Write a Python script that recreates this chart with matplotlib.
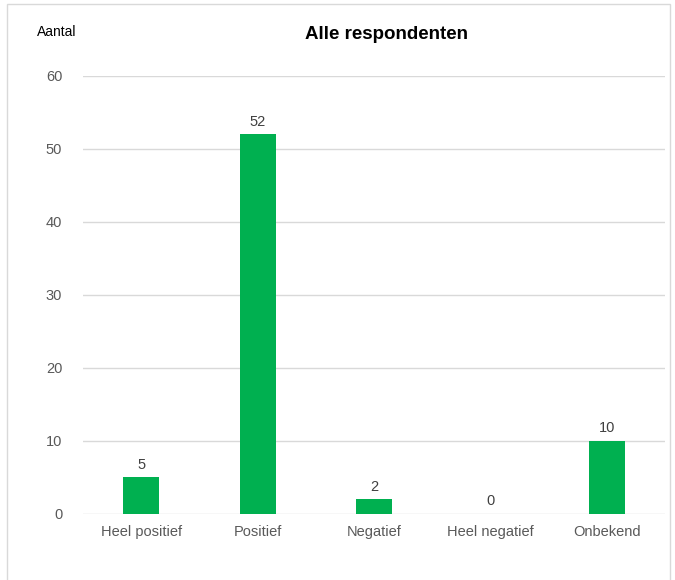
import matplotlib.pyplot as plt
from matplotlib.patches import Rectangle

categories = ['Heel positief', 'Positief', 'Negatief', 'Heel negatief', 'Onbekend']
values = [5, 52, 2, 0, 10]
yticks = [0, 10, 20, 30, 40, 50, 60]

plt.rcParams['font.family'] = ['Liberation Sans', 'DejaVu Sans']

fig = plt.figure(figsize=(6.75, 5.8), dpi=100)
ax = fig.add_axes([0.123, 0.1138, 0.862, 0.7552])

# frame around the whole chart
fig.patches.append(Rectangle((0.011, -0.01), 0.982, 1.003, transform=fig.transFigure,
                             fill=False, edgecolor='#d9d9d9', linewidth=1))

x = range(len(categories))
ax.bar(x, values, width=0.31, color='#00b050', zorder=3)
for i, v in enumerate(values):
    ax.text(i, v + 0.8, str(v), ha='center', va='bottom', fontsize=10.5, color='#404040')

ax.set_xlim(-0.5, 4.5)
ax.set_ylim(0, 60)
ax.set_yticks(yticks)
ax.set_xticks(list(x))
ax.set_xticklabels(categories)
ax.tick_params(axis='both', length=0, labelsize=10.5, labelcolor='#595959')
ax.tick_params(axis='y', pad=15)
ax.tick_params(axis='x', pad=8)
ax.grid(axis='y', color='#d9d9d9', linewidth=1, zorder=0)
for s in ax.spines.values():
    s.set_visible(False)

fig.text(0.055, 0.945, 'Aantal', fontsize=10, color='black', va='center')
fig.text(0.573, 0.941, 'Alle respondenten', fontsize=13.5, fontweight='bold',
         ha='center', va='center', color='black')

fig.savefig('out.png', dpi=100)
